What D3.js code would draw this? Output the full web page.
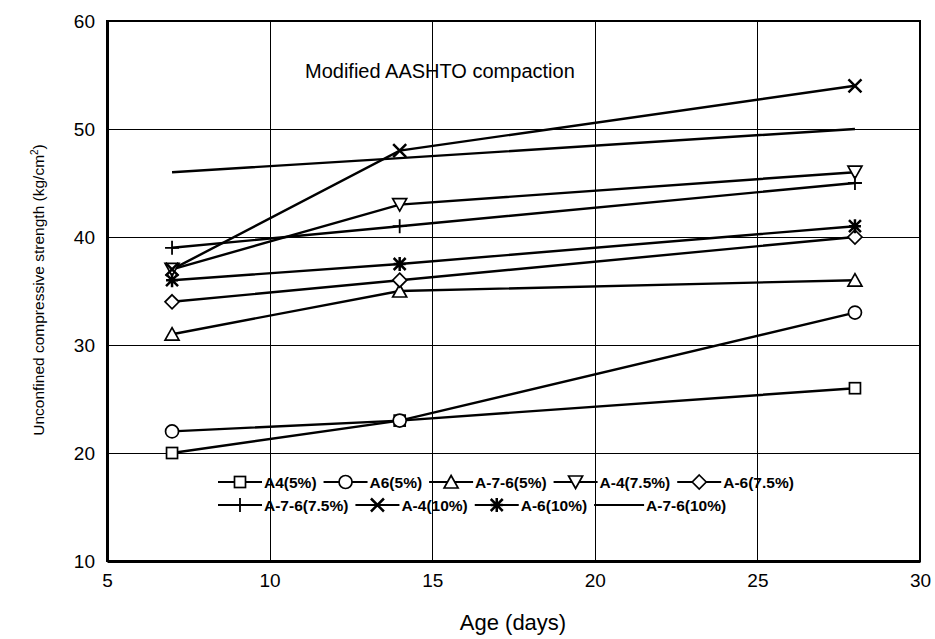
<!DOCTYPE html>
<html><head><meta charset="utf-8">
<script src="https://cdn.jsdelivr.net/npm/d3@7"></script>
<style>body{margin:0;background:#fff}svg{display:block}text{font-family:"Liberation Sans",Arial,sans-serif}</style>
</head><body>
<svg id="c" width="935" height="639"></svg>
<script>
const ages = [7, 14, 28];
const seriesNames = ["A4(5%)","A6(5%)","A-7-6(5%)","A-4(7.5%)","A-6(7.5%)","A-7-6(7.5%)","A-4(10%)","A-6(10%)","A-7-6(10%)"];
const markerTypes = ["square","circle","triangle","triangleDown","diamond","plus","cross","asterisk","none"];
const a4_5 = [20, 23, 26];
const a6_5 = [22, 23, 33];
const a76_5 = [31, 35, 36];
const a4_75 = [37, 43, 46];
const a6_75 = [34, 36, 40];
const a76_75 = [39, 41, 45];
const a4_10 = [37, 48, 54];
const a6_10 = [36, 37.5, 41];
const a76_10 = [46, 47.3, 50];
const seriesValues = [a4_5, a6_5, a76_5, a4_75, a6_75, a76_75, a4_10, a6_10, a76_10];
const xTicks = [5, 10, 15, 20, 25, 30];
const yTicks = [10, 20, 30, 40, 50, 60];
const title = "Modified AASHTO compaction";
const xTitle = "Age (days)";

const svg = d3.select("#c");
const L = 107, R = 920, T = 21, B = 561;
const x = d3.scaleLinear().domain([5, 30]).range([L, R]);
const y = d3.scaleLinear().domain([10, 60]).range([B, T]);

// grid
svg.append("g").attr("shape-rendering", "crispEdges").selectAll("line").data(yTicks.slice(1, -1)).join("line")
  .attr("x1", L).attr("x2", R).attr("y1", d => Math.round(y(d)) + 0.5).attr("y2", d => Math.round(y(d)) + 0.5)
  .attr("stroke", "#000").attr("stroke-width", 1);
svg.append("g").attr("shape-rendering", "crispEdges").selectAll("line").data(xTicks.slice(1, -1)).join("line")
  .attr("y1", T).attr("y2", B).attr("x1", d => Math.round(x(d)) + 0.5).attr("x2", d => Math.round(x(d)) + 0.5)
  .attr("stroke", "#000").attr("stroke-width", 1);

// frame
svg.append("rect").attr("x", L).attr("y", T).attr("width", R - L).attr("height", B - T)
  .attr("fill", "none").attr("stroke", "#000").attr("stroke-width", 2);

// axes
const xAxis = d3.axisBottom(x).tickValues(xTicks).tickSize(0).tickPadding(13);
const gx = svg.append("g").attr("transform", `translate(0,${B})`).call(xAxis);
gx.select(".domain").attr("stroke", "#000").attr("stroke-width", 3);
gx.selectAll("text").attr("font-size", 19).attr("fill", "#000");
const yAxis = d3.axisLeft(y).tickValues(yTicks).tickSize(0).tickPadding(12);
const gy = svg.append("g").attr("transform", `translate(${L},0)`).call(yAxis);
gy.select(".domain").attr("stroke", "#000").attr("stroke-width", 3);
gy.selectAll("text").attr("font-size", 19).attr("fill", "#000");

svg.append("text").attr("x", 513).attr("y", 630).attr("text-anchor", "middle")
  .attr("font-size", 22).text(xTitle);
const yt = svg.append("text").attr("transform", "translate(44,290) rotate(-90)")
  .attr("text-anchor", "middle").attr("font-size", 15.5);
yt.append("tspan").text("Unconfined compressive strength (kg/cm");
yt.append("tspan").attr("font-size", 10).attr("dy", -6).text("2");
yt.append("tspan").attr("dy", 6).text(")");

svg.append("text").attr("x", 305).attr("y", 78).attr("font-size", 20).text(title);

function marker(g, type) {
  const st = {stroke: "#000", "stroke-width": 1.7, fill: "#fff"};
  const app = (tag, attrs) => { const e = g.append(tag); Object.entries(Object.assign({}, st, attrs)).forEach(([k, v]) => e.attr(k, v)); return e; };
  if (type === "square") app("rect", {x: -5.5, y: -5.5, width: 11, height: 11});
  else if (type === "circle") app("circle", {r: 6.5});
  else if (type === "triangle") app("path", {d: "M0,-6.5L7,6L-7,6Z"});
  else if (type === "triangleDown") app("path", {d: "M0,6.5L7,-6L-7,-6Z"});
  else if (type === "diamond") app("path", {d: "M0,-7L7,0L0,7L-7,0Z"});
  else if (type === "plus") app("path", {d: "M-7,0H7M0,-7V7", "stroke-width": 1.8, fill: "none"});
  else if (type === "cross") app("path", {d: "M-6.5,-6.5L6.5,6.5M-6.5,6.5L6.5,-6.5", "stroke-width": 2.5, fill: "none"});
  else if (type === "asterisk") app("path", {d: "M-6,-6L6,6M-6,6L6,-6M0,-7V7M-6,0H6", "stroke-width": 2.5, fill: "none"});
}

const line = d3.line().x((d, i) => x(ages[i])).y(d => y(d));
const gs = svg.append("g");
seriesValues.forEach((vals) => {
  gs.append("path").attr("d", line(vals)).attr("fill", "none").attr("stroke", "#000").attr("stroke-width", 2.4);
});
seriesValues.forEach((vals, si) => {
  vals.forEach((v, i) => {
    const g = gs.append("g").attr("transform", `translate(${x(ages[i])},${y(v)})`);
    marker(g, markerTypes[si]);
  });
});

// legend
const rows = [[0, 1, 2, 3, 4], [5, 6, 7, 8]];
const rowY = [482, 505];
rows.forEach((row, ri) => {
  let cx = 218;
  row.forEach(si => {
    const g = svg.append("g").attr("transform", `translate(${cx},${rowY[ri]})`);
    const segW = si === 8 ? 50 : 44;
    g.append("line").attr("x1", 0).attr("x2", segW).attr("stroke", "#000").attr("stroke-width", 2);
    const mg = g.append("g").attr("transform", `translate(${segW / 2},0)`);
    marker(mg, markerTypes[si]);
    const t = g.append("text").attr("x", segW + 2).attr("y", 5.5).attr("font-size", 15.5).attr("font-weight", "bold").text(seriesNames[si]);
    cx += segW + 2 + t.node().getComputedTextLength() + 7;
  });
});
</script>
</body></html>
